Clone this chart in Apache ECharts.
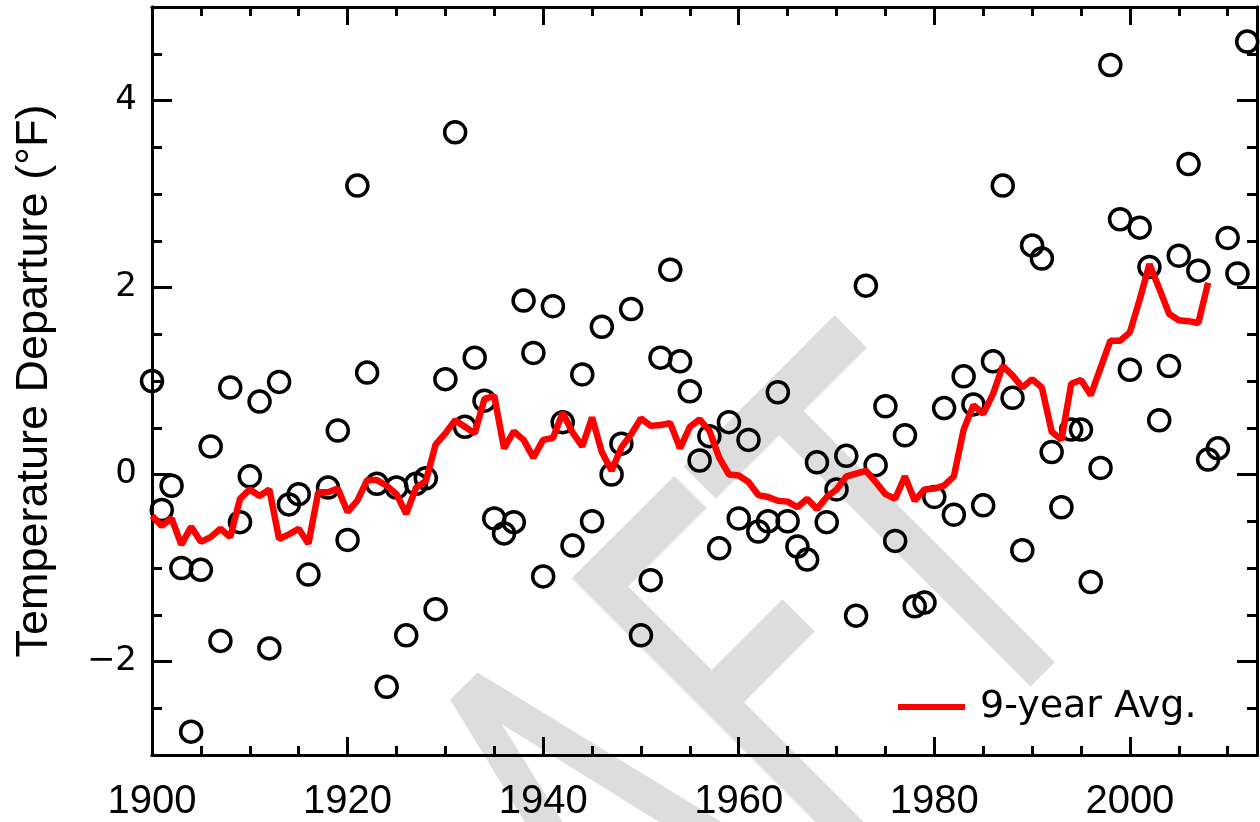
<!DOCTYPE html>
<html>
<head>
<meta charset="utf-8">
<script src="https://cdn.jsdelivr.net/npm/echarts@6/dist/echarts.min.js"></script>
<style>
  html, body { margin: 0; padding: 0; background: #fff; }
  #chart { width: 1260px; height: 822px; }
</style>
</head>
<body>
<div id="chart"></div>
<script>
// annual temperature departure, one value per year from firstYear
// (1917 sits below the axis range, so it is clipped like in the original)
const firstYear = 1900;
const annualDeparture = [
  1.00, -0.38, -0.12, -1.00, -2.75, -1.02, 0.30, -1.78, 0.93, -0.51,
  -0.02, 0.78, -1.86, 0.99, -0.32, -0.21, -1.07, -3.84, -0.14, 0.47,
  -0.70, 3.09, 1.09, -0.10, -2.27, -0.14, -1.72, -0.10, -0.04, -1.44,
  1.02, 3.66, 0.51, 1.25, 0.79, -0.47, -0.63, -0.51, 1.86, 1.30,
  -1.09, 1.80, 0.56, -0.76, 1.07, -0.50, 1.58, 0.00, 0.33, 1.77,
  -1.72, -1.13, 1.25, 2.19, 1.21, 0.89, 0.15, 0.41, -0.79, 0.56,
  -0.47, 0.37, -0.61, -0.50, 0.88, -0.50, -0.77, -0.91, 0.13, -0.51,
  -0.16, 0.20, -1.51, 2.02, 0.10, 0.73, -0.71, 0.42, -1.41, -1.37,
  -0.24, 0.71, -0.43, 1.05, 0.75, -0.33, 1.21, 3.09, 0.82, -0.81,
  2.45, 2.31, 0.24, -0.35, 0.48, 0.48, -1.15, 0.07, 4.38, 2.73,
  1.12, 2.64, 2.22, 0.58, 1.16, 2.34, 3.32, 2.18, 0.16, 0.28,
  2.53, 2.15, 4.63
];
// 9-year average, also starting at firstYear
const nineYearAvg = [
  -0.44, -0.55, -0.47, -0.75, -0.56, -0.72, -0.67, -0.58, -0.67, -0.26,
  -0.16, -0.23, -0.16, -0.69, -0.64, -0.58, -0.74, -0.19, -0.19, -0.15,
  -0.40, -0.28, -0.06, -0.06, -0.12, -0.21, -0.42, -0.14, -0.07, 0.32,
  0.44, 0.58, 0.51, 0.44, 0.81, 0.84, 0.28, 0.46, 0.37, 0.18,
  0.37, 0.39, 0.66, 0.45, 0.30, 0.61, 0.24, 0.04, 0.29, 0.43,
  0.60, 0.52, 0.53, 0.55, 0.28, 0.51, 0.59, 0.47, 0.18, 0.00,
  -0.01, -0.08, -0.22, -0.24, -0.28, -0.29, -0.35, -0.26, -0.37, -0.24,
  -0.16, -0.02, 0.01, 0.04, -0.08, -0.21, -0.26, -0.02, -0.28, -0.16,
  -0.15, -0.12, -0.02, 0.48, 0.74, 0.65, 0.86, 1.16, 1.06, 0.93,
  1.02, 0.93, 0.46, 0.37, 0.97, 1.01, 0.85, 1.14, 1.43, 1.43,
  1.52, 1.87, 2.25, 1.99, 1.72, 1.65, 1.64, 1.62, 2.05
];
const yLabelValues = [-2, 0, 2, 4];
const xMin = 1900, xMax = 2013;
const yMin = -3, yMax = 5;

const annualPoints = annualDeparture.map((v, i) => [firstYear + i, v]);
const avgPoints = nineYearAvg.map((v, i) => [firstYear + i, v]);

const black = '#000';
const axisLine = { show: true, onZero: false, lineStyle: { color: black, width: 3 } };

// x axes: major (20 yr) + minor (5 yr), mirrored on top
const xAxis = (position, interval, tickLen, labels) => ({
  type: 'value', position, min: xMin, max: xMax, interval,
  axisLine,
  axisTick: { show: true, inside: true, length: tickLen, lineStyle: { color: black, width: 3 } },
  axisLabel: labels ? {
    show: true, color: black, fontSize: 40, fontFamily: 'Liberation Sans', margin: 27,
    formatter: v => (v % 20 === 0 ? String(v) : '')
  } : { show: false },
  splitLine: { show: false }
});

// y axes: major (custom values) + minor (0.5), mirrored on right
const yMajor = (position, labels) => ({
  type: 'value', position, min: yMin, max: yMax,
  axisLine,
  axisTick: { show: true, inside: true, length: 20, customValues: yLabelValues, lineStyle: { color: black, width: 3 } },
  axisLabel: labels ? {
    show: true, color: black, fontSize: 34, fontFamily: 'DejaVu Sans', margin: 15,
    customValues: yLabelValues,
    formatter: v => (v < 0 ? '\u2212' + Math.abs(v) : String(v))
  } : { show: false },
  splitLine: { show: false },
  name: labels ? 'Temperature Departure (°F)' : '',
  nameLocation: 'middle', nameGap: 95,
  nameTextStyle: { color: black, fontSize: 45, fontFamily: 'Liberation Sans' }
});
const yMinor = position => ({
  type: 'value', position, min: yMin, max: yMax, interval: 0.5,
  axisLine,
  axisTick: { show: true, inside: true, length: 10, lineStyle: { color: black, width: 3 } },
  axisLabel: { show: false },
  splitLine: { show: false }
});

const chart = echarts.init(document.getElementById('chart'));
chart.setOption({
  animation: false,
  backgroundColor: '#fff',
  grid: { left: 152, right: 2, top: 7, bottom: 66, containLabel: false },
  xAxis: [
    xAxis('bottom', 20, 18, true),
    xAxis('bottom', 5, 9, false),
    xAxis('top', 20, 18, false),
    xAxis('top', 5, 9, false)
  ],
  yAxis: [yMajor('left', true), yMinor('left'), yMajor('right', false), yMinor('right')],
  legend: {
    data: ['9-year Avg.'],
    left: 893, top: 683,
    icon: 'rect', itemWidth: 67, itemHeight: 6,
    textStyle: { color: black, fontSize: 38, fontFamily: 'DejaVu Sans', padding: [0, 0, 0, 10] }
  },
  // DRAFT watermark: rotate the group, squeeze the text inside it
  graphic: [{
    type: 'group', x: 615, y: 900, rotation: Math.PI / 4, z: -10, silent: true,
    children: [{
      type: 'text', x: 0, y: 0, scaleX: 0.63, z: -10, silent: true,
      style: {
        text: 'DRAFT', fontSize: 550, fontFamily: 'DejaVu Sans', fill: '#dddddd',
        align: 'center', verticalAlign: 'middle', textAlign: 'center', textVerticalAlign: 'middle'
      }
    }]
  }],
  series: [
    {
      name: 'annual', type: 'scatter', data: annualPoints, clip: true,
      symbol: 'circle', symbolSize: 21,
      itemStyle: { color: 'transparent', borderColor: black, borderWidth: 3.5, opacity: 1 },
      z: 2
    },
    {
      name: '9-year Avg.', type: 'line', data: avgPoints,
      symbol: 'none', color: '#ff0000',
      lineStyle: { color: '#ff0000', width: 6.5 },
      z: 3
    }
  ]
});
</script>
</body>
</html>
